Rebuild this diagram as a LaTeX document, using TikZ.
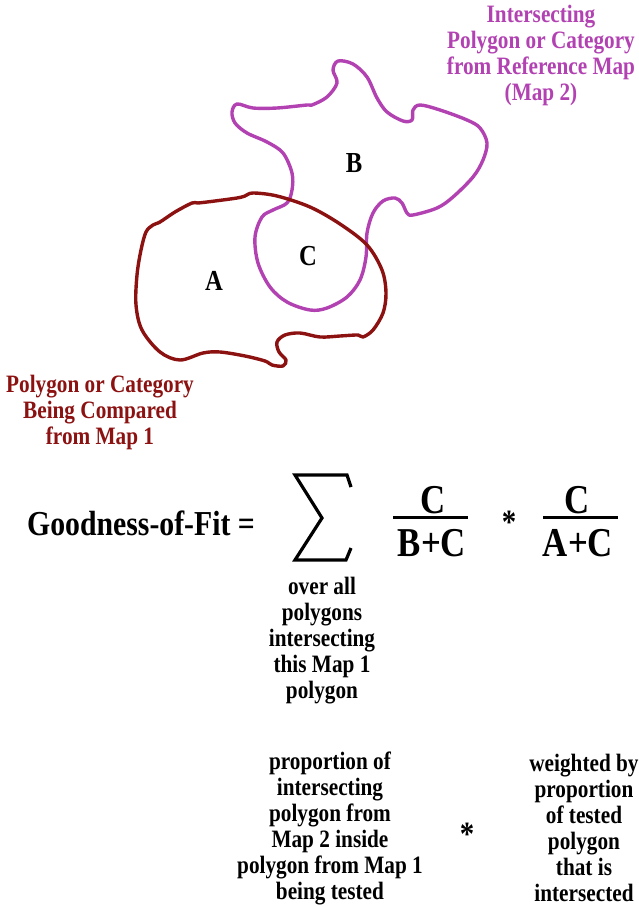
\documentclass[tikz,border=0pt]{standalone}
\usepackage{fontspec}
\setmainfont{Liberation Serif}[FakeStretch=0.85]
\definecolor{mapmag}{RGB}{178,66,178}
\definecolor{mapred}{RGB}{140,18,18}
\begin{document}
\begin{tikzpicture}[x=1pt,y=-1pt,
  blob/.style={line width=3.4pt,line join=round},
  lbl/.style={font=\bfseries\fontsize{25}{26}\selectfont,align=center,inner sep=0pt},
  region/.style={font=\bfseries\fontsize{29}{32}\selectfont,inner sep=0pt},
  big/.style={font=\bfseries\fontsize{41}{44}\selectfont,inner sep=0pt},
  fracbar/.style={line width=3pt},
  star/.style={font=\bfseries\fontsize{34}{40}\selectfont,inner sep=0pt}]
\useasboundingbox (0,0) rectangle (639,907);
% Map 2 polygon (magenta)
\draw[blob,mapmag] plot[smooth cycle,tension=0.55] coordinates {
 (338,61) (353,64) (367,77) (377,98) (387,112) (403,121) (412,120) (413,110)
 (420,105) (440,110) (467,120) (480,128) (487,143) (483,160) (473,177) (453,197)
 (437,208) (413,215) (407,213) (402,203) (395,198) (383,201) (373,213) (367,233)
 (366,257) (360,280) (347,297) (327,308) (310,310) (287,302) (270,287) (258,263)
 (255,237) (262,217) (273,210) (287,203) (292,190) (292,173) (283,153) (267,142)
 (247,133) (235,123) (232,112) (237,104) (253,108) (277,108) (307,105) (312,105)
 (327,97) (337,83) (333,70)};
% Map 1 polygon (dark red)
\draw[blob,mapred] plot[smooth cycle,tension=0.55] coordinates {
 (253,193) (277,196) (310,207) (340,224) (367,245) (382,270) (386,293) (383,313)
 (373,330) (363,337) (358,335) (340,336) (320,337) (300,333) (285,335) (277,342)
 (279,352) (286,360) (283,366) (272,365) (265,361) (245,356) (220,352) (203,353)
 (180,360) (160,352) (142,330) (136,305) (137,275) (141,250) (146,232) (153,225)
 (160,222) (175,212) (192,203) (198,203) (215,201) (237,198) (245,196)};
% region letters
\node[region] (A) at (214,281) {A};
\node[region] (B) at (354,163) {B};
\node[region] (C) at (308,256) {C};
% labels
\node[lbl,text=mapmag] (map2lbl) at (541,55) {Intersecting\\Polygon or Category\\from Reference Map\\(Map 2)};
\node[lbl,text=mapred] (map1lbl) at (100,412) {Polygon or Category\\Being Compared\\from Map 1};
% formula
\node[font=\bfseries\fontsize{35}{38}\selectfont,inner sep=0pt,anchor=base west] (gof) at (27,535) {Goodness-of-Fit =};
\draw[line width=3.2pt,line join=miter,line cap=butt] (351,487) -- (347,475) -- (295,475) -- (322,518) -- (295,560) -- (346,560) -- (351,548);
\node[big] (num1) at (433,500) {C};
\draw[fracbar] (393,517) -- (468,517);
\node[big] (den1) at (432,543) {B+C};
\node[star] (star1) at (509,522) {*};
\node[big] (num2) at (577,500) {C};
\draw[fracbar] (543,517) -- (618,517);
\node[big] (den2) at (578,543) {A+C};
% explanations
\node[lbl] (overall) at (322,641) {over all\\polygons\\intersecting\\this Map 1\\polygon};
\node[lbl] (prop1) at (330,828) {proportion of\\intersecting\\polygon from\\Map 2 inside\\polygon from Map 1\\being tested};
\node[star] (star2) at (467,834) {*};
\node[lbl] (prop2) at (584,828) {weighted by\\proportion\\of tested\\polygon\\that is\\intersected};
\end{tikzpicture}
\end{document}
